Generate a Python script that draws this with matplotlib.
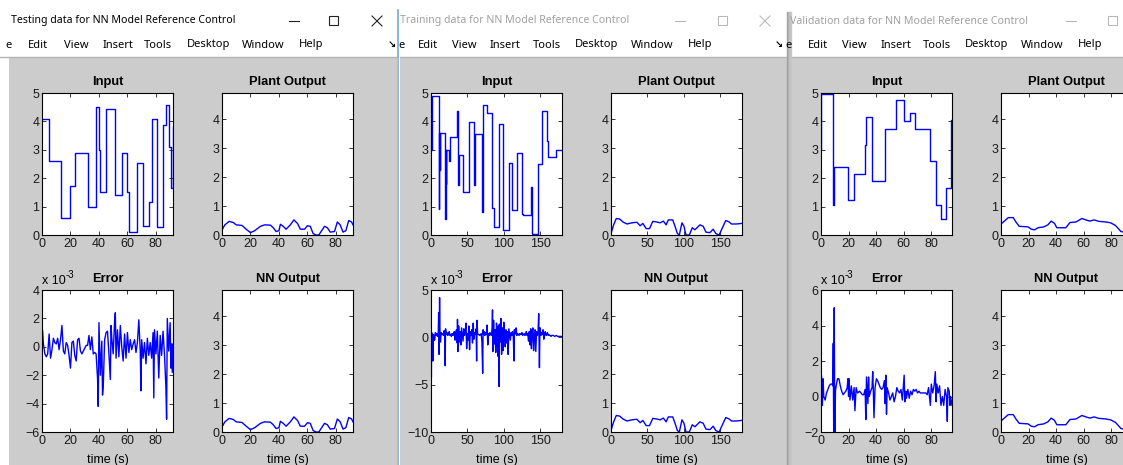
import matplotlib.pyplot as plt
from matplotlib.patches import Rectangle

plt.rcParams['font.family'] = ['Liberation Sans', 'DejaVu Sans']

# ---- testing data ----
in_test_t = [0, 5, 13, 20, 23, 32, 38, 40, 41, 45, 51, 56, 60, 61, 67, 71, 75, 77, 81, 85, 87, 89.5, 90.3, 92]
in_test_v = [4.1, 2.6, 0.6, 1.73, 2.87, 1.0, 4.52, 3.0, 1.5, 4.45, 1.4, 2.87, 1.5, 0.1, 2.55, 0.3, 1.17, 4.07,
             0.28, 3.88, 4.57, 3.1, 1.67, 3.8]

po_test_t = [0, 2, 5, 8, 10, 14, 17, 20, 23, 27, 30, 34, 36, 38, 40, 41, 43, 45, 48, 50.5, 53, 55, 58, 60, 62,
             64, 66, 68, 70, 72, 74, 76, 79, 81, 83, 85, 87, 89, 91, 92]
po_test_v = [0.17, 0.35, 0.47, 0.43, 0.35, 0.33, 0.2, 0.08, 0.15, 0.3, 0.35, 0.34, 0.25, 0.12, 0.15, 0.37, 0.3,
             0.2, 0.35, 0.52, 0.4, 0.2, 0.2, 0.32, 0.3, 0.05, 0.0, 0.0, 0.15, 0.3, 0.25, 0.1, 0.12, 0.45, 0.35,
             0.1, 0.15, 0.5, 0.45, 0.35]

# error in units of 1e-3
err_test_t = [0, 0.3, 1, 2, 3, 4, 5, 6, 7, 8, 9, 10, 11, 12, 13, 14, 15, 16, 17, 18, 19, 20, 21, 22, 23, 24,
              25, 26, 27, 28, 29, 30, 31, 32, 33, 34, 35, 36, 37, 38, 39, 39.5, 40, 41, 42, 42.5, 43, 44, 45,
              46, 47, 48, 48.5, 49, 50, 51, 51.5, 52, 53, 54, 55, 56, 57, 58, 59, 60, 61, 62, 63, 64, 65, 66,
              67, 68, 69, 69.5, 70, 71, 72, 73, 74, 75, 76, 77, 78, 78.5, 79, 80, 81, 82, 83, 84, 85, 86, 87,
              87.5, 88, 89, 90, 90.5, 91, 91.5, 92]
err_test_v = [-2.2, 1.2, 0.2, -0.5, -0.7, -0.5, 0.9, -0.8, -0.2, 0.6, 0.3, 0.2, 0.6, -0.2, 0.5, 1.5, -0.3,
              -0.5, 0.3, 0.1, -0.6, -1.5, 0.3, 0.4, -0.6, -1.0, 0.5, 0.6, -0.3, -0.5, -0.3, -0.1, 0.1, 0.1,
              0.8, -0.2, 0.7, -0.5, -0.4, -0.5, -2.2, -4.2, 1.7, -2.0, 0.4, -3.4, -2.8, 0.5, 1.0, 1.1, -0.5,
              -2.3, 1.5, 0.6, -0.5, 1.8, 2.4, -0.8, 1.2, -0.7, 1.5, 0.0, -1.0, 0.9, -0.8, 1.0, -0.4, 0.5, -0.2,
              0.2, 0.5, -0.4, 0.3, 1.9, -0.3, -3.1, 0.5, -0.8, 0.3, -1.2, 0.6, -0.6, 0.3, -0.8, 1.0, -3.6, 1.2,
              -0.5, 1.1, -2.2, 0.8, -0.6, 1.1, -0.5, -2.8, -5.1, 2.0, -0.3, 1.7, -1.5, 0.2, -1.8, 0.2]

# ---- training data ----
in_train_t = [0, 1.4, 10.5, 11, 11.8, 12.3, 19.5, 20, 20.5, 21, 25, 25.5, 35.5, 36.4, 37, 37.7, 38.2, 44.5,
              52.7, 59.5, 60.5, 61, 70.5, 71, 76.8, 84.5, 86.4, 93.6, 99, 107.3, 111.4, 118.2, 125, 125.5,
              126.4, 137.7, 139, 146.4, 152.7, 159, 160.5, 171.8, 180]
in_train_v = [3.0, 4.88, 0.93, 3.6, 2.3, 3.6, 0.58, 3.0, 1.81, 3.0, 2.59, 3.45, 3.92, 4.38, 3.05, 1.76, 2.82,
              1.5, 3.97, 1.75, 2.65, 3.57, 0.81, 4.58, 4.3, 0.96, 0.28, 3.92, 0.16, 2.53, 0.88, 2.9, 1.8, 0.75,
              0.72, 1.7, 0.02, 2.5, 4.38, 3.3, 2.76, 3.0, 3.0]

po_train_t = [0, 3.6, 7.3, 11.9, 16.4, 21.9, 28.7, 35.5, 40.1, 43.8, 48.3, 52.9, 57.4, 62.9, 67.5, 72, 75.7,
              78.8, 84.8, 88, 91.2, 93.9, 97.5, 100.3, 103, 107.6, 111.7, 115.3, 122.2, 126.7, 130.4, 135.8,
              140.4, 144, 148.6, 153.1, 157.7, 162.3, 165.5, 172.3, 180]
po_train_v = [0.05, 0.35, 0.57, 0.55, 0.45, 0.38, 0.42, 0.44, 0.32, 0.4, 0.22, 0.22, 0.47, 0.45, 0.42, 0.48,
              0.35, 0.52, 0.52, 0.3, 0.05, 0.0, 0.42, 0.3, 0.0, 0.0, 0.25, 0.18, 0.35, 0.3, 0.1, 0.08, 0.2,
              0.05, 0.0, 0.25, 0.5, 0.45, 0.38, 0.38, 0.4]

err_train_t = [0, 0.5, 1, 2, 2.7, 3.5, 4, 5, 6, 7, 8, 9, 10, 10.5, 11, 11.8, 12.3, 13, 14, 15, 16, 17, 18, 19,
               19.5, 20, 21, 22, 23, 24, 25, 26, 27, 28, 29, 30, 31, 32, 33, 34, 35, 36, 36.4, 37, 38, 39, 40,
               41, 42, 43, 44, 45, 46, 47, 48, 49, 50, 51, 52, 53, 54, 55, 56, 57, 58, 59, 60, 61, 62, 62.7,
               63.3, 64, 65, 66, 67, 68, 69, 70, 71, 71.6, 72, 73, 74, 75, 76, 77, 78, 79, 80, 81, 82, 83, 84,
               84.5, 85, 86, 87, 88, 89, 90, 91, 92, 92.5, 93.6, 94, 95, 96, 97, 98, 99, 100, 101, 102, 103,
               104, 105, 106, 107, 108, 109, 110, 111, 112, 113, 114, 114.6, 115, 116, 117, 118, 119, 120, 121,
               122, 123, 124, 125, 126, 127, 128, 129, 130, 131, 132, 133, 134, 135, 136, 137, 138, 139, 140,
               141, 142, 143, 144, 145, 146, 147, 148, 149, 149.6, 150, 151, 152, 153, 154, 155, 156, 157, 158,
               159, 160, 161, 162, 163, 164, 165, 166, 168, 170, 172, 174, 176, 178, 180]
err_train_v = [2.0, -4.2, 0.5, -0.8, -2.5, 0.3, 0.0, -0.3, 0.5, 0.2, 0.4, 0.1, 0.5, 2.6, -1.8, 4.2, 0.8, -0.5,
               0.5, 0.3, 0.4, 0.2, 0.7, 0.4, -3.0, 0.9, 0.3, 0.5, 0.2, 0.3, 0.6, 0.2, 0.3, 0.1, 0.4, 0.2, 0.3,
               0.6, -0.3, 0.5, 0.8, -0.6, 1.9, -1.5, 1.2, -0.5, 0.6, -0.8, 1.0, 0.3, -0.4, 0.9, 0.2, 0.5, 1.5,
               -1.2, 0.4, -0.3, 1.2, -1.3, 0.6, 0.2, 0.8, -0.6, 1.5, -0.2, 0.5, 0.3, 0.9, -2.5, 1.8, 0.4, 0.3,
               0.3, 0.2, 0.3, 0.4, -0.5, -3.8, 0.8, 0.3, 0.6, 0.2, 0.5, 0.3, 1.3, -0.8, 0.4, 0.2, 0.5, 0.3, 0.2,
               1.0, 2.9, -1.5, 1.8, -0.7, 0.8, -1.6, 1.5, 0.2, -2.0, 1.2, -5.2, 1.4, -0.5, 2.0, -1.8, 1.0, -1.4,
               1.6, 0.5, -1.0, 0.8, -0.6, 0.6, -1.8, 0.9, 0.3, -0.3, 0.5, 0.2, 0.6, 0.3, -2.5, 0.8, 0.3, 0.5,
               1.0, 0.2, 0.4, 0.3, 0.2, 0.4, 0.3, 0.3, 0.5, 0.2, 0.3, 0.4, 0.2, 0.3, 0.6, 0.2, 0.4, -0.4, 0.6,
               -0.8, 0.9, -1.2, 0.5, 1.0, -1.4, 0.3, 0.8, -1.5, 0.6, 0.2, 0.4, 2.5, -3.2, 0.6, 1.0, 0.2, 0.5,
               0.3, 0.8, -0.2, 0.4, 0.6, 0.2, 0.3, 0.5, 0.2, 0.3, 0.2, 0.2, 0.1, 0.2, 0.2, 0.1, 0.2, 0.1, 0.1,
               0.1, 0.1]

# ---- validation data ----
in_val_t = [0, 0.3, 8.9, 9.3, 19.8, 23.6, 31.8, 32.6, 37.1, 46.7, 54.2, 60, 64.3, 68.4, 78.8, 83.1, 87, 90.8,
            94.3, 94.6, 95]
in_val_v = [3.0, 4.95, 1.06, 2.4, 1.24, 2.16, 3.17, 4.15, 1.91, 3.72, 4.75, 4.0, 4.3, 3.72, 2.62, 1.04, 0.55,
            1.66, 2.9, 4.05, 4.05]

po_val_t = [0, 2.9, 5.3, 8.9, 10.8, 13.2, 19.6, 22, 24.4, 26.8, 31, 34, 36.4, 38.8, 40.5, 47, 50, 54.4, 58.7,
            61.6, 64.4, 67.5, 71, 76, 79.5, 83, 85.5, 87, 89, 91, 93, 95]
po_val_v = [0.38, 0.5, 0.6, 0.6, 0.45, 0.3, 0.28, 0.2, 0.18, 0.25, 0.28, 0.35, 0.48, 0.4, 0.25, 0.25, 0.43,
            0.45, 0.57, 0.52, 0.48, 0.52, 0.47, 0.45, 0.42, 0.33, 0.2, 0.12, 0.1, 0.12, 0.15, 0.18]

err_val_t = [0, 0.3, 1, 1.5, 2, 3, 4, 5, 6, 7, 8, 8.6, 8.9, 9.2, 9.6, 10, 10.5, 11, 12, 13, 14, 15, 16, 17, 18,
             19, 19.5, 20, 20.3, 21, 22, 23, 24, 24.6, 25.5, 26.5, 28, 29, 30, 31, 32, 32.5, 33, 34, 34.5, 35,
             36, 37, 37.5, 38, 38.4, 39.2, 40.2, 41, 42, 43, 44, 45, 46, 46.5, 47, 47.5, 48, 49, 50, 51, 52,
             53, 54, 55, 56, 57, 58, 59, 60.3, 60.8, 61.5, 62, 63, 64, 65, 66, 67, 68, 69, 70, 71, 72, 73,
             74, 75, 76, 77, 78, 79.3, 80, 81, 82, 82.9, 83.5, 84, 85, 86, 87, 88, 89, 90, 91, 91.6, 92, 93,
             93.5, 94, 95]
err_val_v = [-1.3, 1.2, -0.5, 1.0, 0.0, -0.2, 0.2, 0.4, 0.6, 0.7, 0.7, 0.6, 3.0, -2.0, 5.0, -2.6, 0.3, 0.6,
             1.0, 1.0, 0.6, 0.3, 0.1, 0.2, 0.3, 0.5, 1.0, 0.0, 1.0, -0.2, 0.6, -0.2, 0.5, -0.8, 0.5, 0.2, 0.3,
             0.2, 0.1, 0.1, 0.4, -1.3, 1.1, -0.4, 1.1, 0.0, 0.3, 0.5, 1.4, 0.2, -1.2, 0.5, 1.0, 0.9, 0.7, 0.5,
             0.4, 0.5, 0.9, -0.4, 1.2, -1.0, 0.5, 0.2, -0.2, 0.0, 0.2, -0.3, 0.0, 0.5, 0.3, 0.2, 0.4, -0.2,
             1.2, -0.3, 0.3, -0.1, 0.4, -0.1, 0.3, 0.1, 0.4, 0.3, 0.4, 0.2, 0.3, 0.2, 0.2, 0.2, 0.2, 0.2, 0.1,
             0.5, -0.5, 0.7, 0.2, 0.6, 1.4, -0.3, 0.7, 0.2, 0.6, -0.5, 0.0, -0.5, 0.4, 0.0, -1.4, 0.5, 0.3,
             -0.5, 0.0, -0.5]

W, H = 1123, 465
fig = plt.figure(figsize=(W / 100, H / 100), dpi=100, facecolor='white')

# canvas in pixel units for the window frames
bg = fig.add_axes([0, 0, 1, 1], zorder=-5)
bg.set_xlim(0, W)
bg.set_ylim(H, 0)
bg.axis('off')

GRAY = '#cccccc'
UI = ['Noto Sans', 'DejaVu Sans']
MENU = ['Edit', 'View', 'Insert', 'Tools', 'Desktop', 'Window', 'Help']


def frame(title, x_left, x_right, title_x, menu_xs, e_x, ctrl_xs, active):
    col = 'black' if active else '#a0a0a0'
    bg.add_patch(Rectangle((x_left, 58), x_right - x_left, H - 58, color=GRAY, lw=0))
    bg.plot([x_left - 9 if active else x_left, x_right], [57.5, 57.5], color='#b4b4b4', lw=1)
    bg.text(title_x, 21, title, fontsize=7.6, color=col, va='center', family=UI)
    bg.text(e_x, 45, 'e', fontsize=8, va='center', family=UI)
    for name, mx in zip(MENU, menu_xs):
        bg.text(mx, 45, name, fontsize=8, va='center', family=UI)
    # minimise / maximise / close
    ccol = '#222222' if active else '#b8b8b8'
    mn, mx_, cl = ctrl_xs
    bg.plot([mn, mn + 10], [21, 21], color=ccol, lw=0.8)
    bg.add_patch(Rectangle((mx_, 16.5), 9, 9, fill=False, ec=ccol, lw=0.8))
    if cl is not None:
        bg.plot([cl, cl + 10], [16, 26], color=ccol, lw=0.8)
        bg.plot([cl, cl + 10], [26, 16], color=ccol, lw=0.8)


frame('Testing data for NN Model Reference Control', 9, 397, 11,
      [28, 64, 103, 144, 187, 242, 299], 5, (289, 329, 372), True)
frame('Training data for NN Model Reference Control', 400, 787, 400,
      [418, 452, 490, 533, 575, 631, 688], 398, (675, 718, 760), False)
frame('Validation data for NN Model Reference Control', 790, W + 5, 790,
      [808, 842, 881, 923, 965, 1021, 1078], 785, (1066, 1108, None), False)
for ax_x in (388, 775):
    bg.text(ax_x, 45, '\u2198', fontsize=7, va='center', family=['DejaVu Sans'], fontweight='bold')

# window edges
bg.plot([398, 398], [10, H], color='#76a7dc', lw=1.2)
bg.plot([396.5, 396.5], [58, H], color='#bdbdbd', lw=1)
for i, c in enumerate(['#9e9e9e', '#b2b2b2', '#bebebe', '#c4c4c4', '#c8c8c8']):
    bg.plot([787 + i, 787 + i], [12, H], color=c, lw=1)


def panel(x0, y0, x1, y1):
    ax = fig.add_axes([x0 / W, 1 - y1 / H, (x1 - x0) / W, (y1 - y0) / H])
    ax.tick_params(direction='in', top=True, right=True, length=3, width=0.6,
                   labelsize=9, pad=2, colors='#1a1a1a')
    for s in ax.spines.values():
        s.set_linewidth(0.8)
    return ax


sets = [
    (42, 92, [0, 20, 40, 60, 80], in_test_t, in_test_v, po_test_t, po_test_v,
     err_test_t, err_test_v, (-6, 4), [-6, -4, -2, 0, 2, 4]),
    (431, 180, [0, 50, 100, 150], in_train_t, in_train_v, po_train_t, po_train_v,
     err_train_t, err_train_v, (-10, 5), [-10, -5, 0, 5]),
    (821, 95, [0, 20, 40, 60, 80], in_val_t, in_val_v, po_val_t, po_val_v,
     err_val_t, err_val_v, (-2, 6), [-2, 0, 2, 4, 6]),
]

for x0, tmax, xt, it, iv, pt, pv, et, ev, elim, eticks in sets:
    ax = panel(x0, 93, x0 + 131, 235)
    ax.step(it, iv, where='post', color='blue', lw=1)
    ax.set_xlim(0, tmax)
    ax.set_ylim(0, 5)
    ax.set_xticks(xt)
    ax.set_yticks([0, 1, 2, 3, 4, 5])
    ax.set_title('Input', fontsize=9.3, fontweight='bold', pad=6)

    ax = panel(x0 + 180, 93, x0 + 311, 235)
    ax.plot(pt, pv, color='blue', lw=1)
    ax.set_xlim(0, tmax)
    ax.set_ylim(0, 4.9)
    ax.set_xticks(xt)
    ax.set_yticks([0, 1, 2, 3, 4])
    ax.set_title('Plant Output', fontsize=9.3, fontweight='bold', pad=6)

    ax = panel(x0, 290, x0 + 131, 432)
    ax.plot(et, ev, color='blue', lw=1)
    ax.set_xlim(0, tmax)
    ax.set_ylim(*elim)
    ax.set_xticks(xt)
    ax.set_yticks(eticks)
    ax.set_title('Error', fontsize=9.3, fontweight='bold', pad=6)
    ax.set_xlabel('time (s)', fontsize=9, labelpad=5)
    ax.text(0, 1.02, 'x 10', transform=ax.transAxes, fontsize=9, va='bottom')
    ax.text(0.18, 1.07, '-3', transform=ax.transAxes, fontsize=7, va='bottom')

    ax = panel(x0 + 180, 290, x0 + 311, 432)
    ax.plot(pt, pv, color='blue', lw=1)
    ax.set_xlim(0, tmax)
    ax.set_ylim(0, 4.9)
    ax.set_xticks(xt)
    ax.set_yticks([0, 1, 2, 3, 4])
    ax.set_title('NN Output', fontsize=9.3, fontweight='bold', pad=6)
    ax.set_xlabel('time (s)', fontsize=9, labelpad=5)

fig.savefig('out.png', dpi=100, facecolor='white')
